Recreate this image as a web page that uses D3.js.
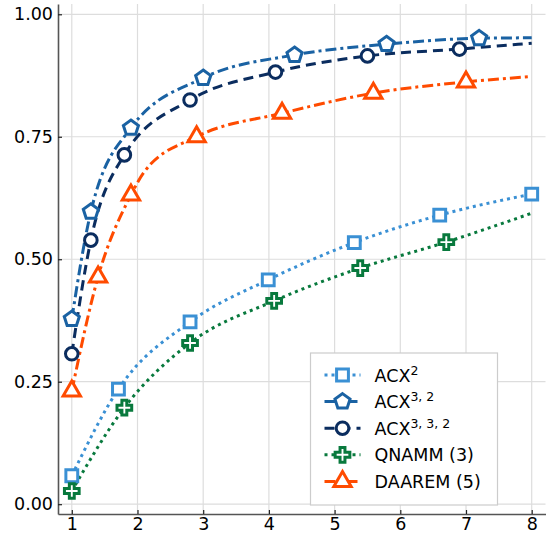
<!DOCTYPE html>
<html>
<head>
<meta charset="utf-8">
<script src="https://cdn.jsdelivr.net/npm/d3@7"></script>
<style>
  body { margin: 0; background: #fff; }
  text { font-family: 'DejaVu Sans', sans-serif; }
</style>
</head>
<body>
<svg id="chart"></svg>
<script>
// values
const xTicks = [1, 2, 3, 4, 5, 6, 7, 8];
const yTicks = [0, 0.25, 0.5, 0.75, 1.0];

const acx2X = [1, 1.71, 2.8, 3.99, 5.3, 6.6, 8];
const acx2Y = [0.058, 0.235, 0.372, 0.458, 0.534, 0.590, 0.633];
const acx32X = [1, 1.29, 1.9, 3.0, 4.39, 5.79, 7.2, 8];
const acx32Y = [0.378, 0.597, 0.768, 0.870, 0.917, 0.939, 0.951, 0.952];
const acx332X = [1, 1.29, 1.8, 2.8, 4.1, 5.5, 6.9, 8];
const acx332Y = [0.307, 0.539, 0.713, 0.825, 0.882, 0.915, 0.929, 0.941];
const qnammX = [1, 1.8, 2.8, 4.08, 5.39, 6.7, 8];
const qnammY = [0.027, 0.197, 0.329, 0.415, 0.482, 0.535, 0.594];
const daaremX = [1, 1.4, 1.9, 2.1, 2.9, 4.2, 5.59, 7.0, 8];
const daaremY = [0.231, 0.464, 0.631, 0.678, 0.750, 0.798, 0.839, 0.862, 0.873];
// which points carry a marker
const acx2Marks = [0, 1, 2, 3, 4, 5, 6];
const acx32Marks = [0, 1, 2, 3, 4, 5, 6];
const acx332Marks = [0, 1, 2, 3, 4, 5, 6];
const qnammMarks = [0, 1, 2, 3, 4, 5];
const daaremMarks = [0, 1, 2, 4, 5, 6, 7];

const series = [
  { name: 'ACX', sup: '2', xs: acx2X, ys: acx2Y, marks: acx2Marks, color: '#3a90d4', dash: '3,4', symbol: 'square' },
  { name: 'ACX', sup: '3, 2', xs: acx32X, ys: acx32Y, marks: acx32Marks, color: '#1a62a3', dash: '11,4,3,4', symbol: 'pentagon' },
  { name: 'ACX', sup: '3, 3, 2', xs: acx332X, ys: acx332Y, marks: acx332Marks, color: '#0b2d5f', dash: '10,6', symbol: 'circle' },
  { name: 'QNAMM (3)', sup: null, xs: qnammX, ys: qnammY, marks: qnammMarks, color: '#08793d', dash: '3,4', symbol: 'cross' },
  { name: 'DAAREM (5)', sup: null, xs: daaremX, ys: daaremY, marks: daaremMarks, color: '#ff4b00', dash: '11,4,3,4', symbol: 'triangle' }
];

const width = 546;
const height = 536;

const svg = d3.select('#chart')
  .attr('width', width)
  .attr('height', height);

let x = d3.scaleLinear().domain([0.79, 8.21]).range([58, 545.5]);
let y = d3.scaleLinear().domain([-0.02, 1.021]).range([514, 4]);

// grid
svg.append('g')
  .selectAll('line')
  .data(xTicks)
  .enter()
  .append('line')
  .attr('x1', d => x(d)).attr('x2', d => x(d))
  .attr('y1', y.range()[1]).attr('y2', y.range()[0])
  .attr('stroke', '#dddddd').attr('stroke-width', 1.2);

svg.append('g')
  .selectAll('line')
  .data(yTicks)
  .enter()
  .append('line')
  .attr('x1', x.range()[0]).attr('x2', x.range()[1])
  .attr('y1', d => y(d)).attr('y2', d => y(d))
  .attr('stroke', '#dddddd').attr('stroke-width', 1.2);

// axes
let xAxis = d3.axisBottom(x).tickValues(xTicks).tickFormat(d3.format('d'))
  .tickSizeInner(-4).tickSizeOuter(0).tickPadding(3.5);
let yAxis = d3.axisLeft(y).tickValues(yTicks).tickFormat(d3.format('.2f'))
  .tickSizeInner(-4).tickSizeOuter(0).tickPadding(5);

const gx = svg.append('g')
  .attr('transform', 'translate(0,' + y.range()[0] + ')')
  .call(xAxis);
const gy = svg.append('g')
  .attr('transform', 'translate(' + x.range()[0] + ',0)')
  .call(yAxis);

[gx, gy].forEach(g => {
  g.select('.domain').attr('stroke', '#555').attr('stroke-width', 1.6);
  g.selectAll('.tick line').attr('stroke', '#222').attr('stroke-width', 1.2);
  g.selectAll('.tick text')
    .attr('fill', '#000')
    .style('font-family', "'DejaVu Sans', sans-serif")
    .style('font-size', '17.5px');
});

// marker shapes
const pentagon = {
  draw(ctx, size) {
    const r = Math.sqrt(size / 2.378);
    for (let i = 0; i < 5; i++) {
      const a = -Math.PI / 2 + i * 2 * Math.PI / 5;
      const px = r * Math.cos(a), py = r * Math.sin(a);
      if (i === 0) ctx.moveTo(px, py); else ctx.lineTo(px, py);
    }
    ctx.closePath();
  }
};
const symbolTypes = {
  square: [d3.symbolSquare, 140],
  pentagon: [pentagon, 150],
  circle: [d3.symbolCircle, 125],
  cross: [d3.symbolCross, 120],
  triangle: [d3.symbolTriangle, 130]
};
function markerPath (s) {
  const t = symbolTypes[s];
  return d3.symbol().type(t[0]).size(t[1])();
}

const line = d3.line()
  .x(d => x(d[0]))
  .y(d => y(d[1]))
  .curve(d3.curveMonotoneX);

const plot = svg.append('g');

series.forEach(s => {
  const pts = s.xs.map((v, i) => [v, s.ys[i]]);
  plot.append('path')
    .attr('d', line(pts))
    .attr('fill', 'none')
    .attr('stroke', s.color)
    .attr('stroke-width', 3)
    .attr('stroke-dasharray', s.dash);
});

series.forEach(s => {
  plot.append('g')
    .selectAll('path')
    .data(s.marks)
    .enter()
    .append('path')
    .attr('d', markerPath(s.symbol))
    .attr('transform', i => 'translate(' + x(s.xs[i]) + ',' + y(s.ys[i]) + ')')
    .attr('fill', '#fff')
    .attr('stroke', s.color)
    .attr('stroke-width', 3);
});

// legend
const legend = svg.append('g').attr('transform', 'translate(310.5,353)');
legend.append('rect')
  .attr('width', 187)
  .attr('height', 152)
  .attr('fill', '#fff')
  .attr('stroke', '#cccccc')
  .attr('stroke-width', 1.2);

const rowH = 26.6;
series.forEach((s, i) => {
  const row = legend.append('g').attr('transform', 'translate(0,' + (22 + i * rowH) + ')');
  row.append('line')
    .attr('x1', 14).attr('x2', 50)
    .attr('stroke', s.color)
    .attr('stroke-width', 3)
    .attr('stroke-dasharray', s.dash);
  row.append('path')
    .attr('d', markerPath(s.symbol))
    .attr('transform', 'translate(32,0)')
    .attr('fill', '#fff')
    .attr('stroke', s.color)
    .attr('stroke-width', 3);
  const t = row.append('text')
    .attr('x', 64)
    .attr('y', 6.5)
    .style('font-size', '17.5px')
    .attr('fill', '#000')
    .text(s.name);
  if (s.sup) {
    t.append('tspan')
      .attr('dy', -7)
      .style('font-size', '12.5px')
      .text(s.sup);
  }
});
</script>
</body>
</html>
